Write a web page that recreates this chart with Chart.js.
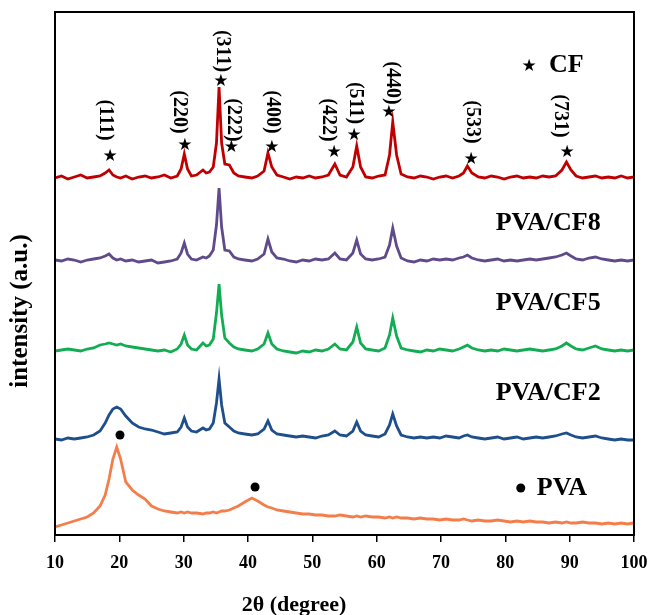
<!DOCTYPE html>
<html>
<head>
<meta charset="utf-8">
<script src="https://cdn.jsdelivr.net/npm/chart.js@4/dist/chart.umd.min.js"></script>
<style>
  html, body { margin: 0; padding: 0; background: #fff; }
  #wrap { width: 651px; height: 615px; }
</style>
</head>
<body>
<div id="wrap"><canvas id="xrd" width="651" height="615"></canvas></div>
<script>
// 2θ positions (degree)
const twoTheta = [10, 11, 12, 13, 14, 15, 16, 17, 17.8, 18.4, 19, 19.6, 20.2, 21, 22, 23, 24, 25, 26, 27, 28, 29,
  29.6, 30.1, 30.6, 31.2, 32, 33, 33.5, 34, 34.6, 35.1, 35.5, 35.9, 36.4, 37.1, 37.8, 38.5, 39.5, 40.6, 41.5, 42.5,
  43.1, 43.7, 44.5, 45.5, 46.5, 47.5, 48.5, 49.5, 50.5, 51.5, 52.5, 53.5, 54.3, 55.3, 56.3, 56.9, 57.5, 58.3, 59.3,
  60.3, 61.3, 62, 62.5, 63.1, 63.8, 64.8, 65.8, 66.8, 67.8, 68.8, 69.8, 70.8, 71.8, 72.8, 73.5, 74.1, 74.8, 75.8,
  76.8, 77.8, 78.8, 79.8, 80.8, 81.8, 82.8, 83.8, 84.8, 85.8, 86.8, 87.8, 88.8, 89.5, 90.2, 91, 92, 93, 94, 95, 96,
  97, 98, 99, 100];

// intensities (a.u., stacked offsets included)
const cf = [357, 359, 356, 358, 360, 357, 358, 359, 362, 365, 360, 358, 357, 359, 356, 358, 359, 357, 358, 360, 357, 359,
  366, 381, 366, 359, 360, 365, 362, 363, 368, 392, 448, 392, 371, 370, 362, 359, 358, 357, 359, 364,
  382, 368, 360, 358, 356, 358, 357, 359, 357, 358, 360, 371, 360, 358, 368, 389, 368, 358, 357,
  359, 360, 380, 413, 380, 361, 358, 357, 359, 358, 356, 358, 359, 357, 359, 362, 369, 362, 358,
  357, 359, 358, 356, 358, 359, 357, 358, 357, 359, 358, 359, 365, 373, 365, 359, 357, 358, 359, 357, 358,
  357, 359, 357, 358];
const pvaCf8 = [275, 274, 276, 275, 273, 275, 276, 277, 279, 281, 277, 275, 276, 274, 275, 273, 274, 275, 272, 273, 274, 276,
  282, 292, 281, 276, 275, 278, 277, 279, 285, 310, 347, 308, 285, 284, 278, 276, 275, 274, 276, 281,
  296, 283, 277, 276, 274, 273, 275, 274, 276, 275, 276, 282, 276, 275, 282, 295, 281, 276, 275,
  276, 278, 290, 307, 289, 277, 274, 273, 275, 274, 276, 275, 276, 275, 277, 278, 280, 277, 275,
  274, 275, 276, 274, 275, 274, 275, 276, 275, 276, 277, 278, 280, 282, 279, 276, 275, 277, 278, 276, 275,
  274, 275, 274, 275];
const pvaCf5 = [184, 185, 186, 185, 184, 186, 187, 190, 191, 192, 191, 190, 191, 189, 188, 187, 186, 185, 184, 185, 183, 186,
  191, 200, 190, 186, 185, 192, 189, 190, 196, 222, 251, 220, 197, 192, 188, 186, 185, 184, 186, 191,
  202, 191, 186, 184, 183, 182, 184, 183, 185, 184, 186, 191, 186, 185, 193, 208, 192, 186, 185,
  184, 187, 200, 217, 199, 187, 185, 184, 183, 185, 184, 186, 185, 184, 186, 188, 190, 187, 185,
  184, 185, 184, 186, 185, 184, 185, 186, 185, 184, 185, 186, 189, 192, 189, 186, 185, 187, 189, 186, 185,
  184, 185, 184, 185];
const pvaCf2 = [96, 95, 97, 96, 97, 98, 100, 104, 112, 120, 126, 128, 126, 119, 112, 108, 106, 105, 103, 101, 102, 103,
  108, 117, 108, 104, 103, 107, 105, 106, 112, 132, 156, 130, 112, 108, 104, 102, 101, 100, 101, 106,
  114, 105, 101, 100, 99, 98, 99, 98, 97, 99, 100, 104, 100, 99, 104, 113, 104, 100, 99,
  98, 101, 110, 121, 109, 100, 98, 97, 98, 97, 98, 97, 99, 98, 97, 99, 100, 98, 97,
  96, 97, 98, 96, 97, 98, 96, 97, 98, 97, 98, 99, 101, 102, 100, 98, 97, 98, 99, 97, 96,
  95, 96, 95, 95];
const pva = [8, 10, 12, 14, 16, 18, 22, 29, 40, 56, 76, 88, 76, 53, 45, 40, 36, 29, 26, 24, 23, 22,
  23, 22, 23, 22, 22, 21, 22, 22, 23, 22, 23, 24, 24, 25, 27, 29, 33, 37, 34, 30,
  28, 27, 25, 24, 23, 22, 21, 21, 20, 20, 19, 19, 20, 19, 18, 19, 18, 19, 18,
  18, 17, 18, 17, 18, 17, 17, 16, 17, 16, 16, 15, 16, 15, 15, 16, 15, 14, 15,
  14, 14, 15, 14, 13, 14, 13, 14, 13, 13, 12, 13, 12, 13, 12, 12, 13, 12, 12, 11, 12,
  11, 12, 11, 12];

const seriesNames = ['CF', 'PVA/CF8', 'PVA/CF5', 'PVA/CF2', 'PVA'];
const xTicks = [10, 20, 30, 40, 50, 60, 70, 80, 90, 100];

// (hkl) reflections of CF
const hklText = ['(111)', '(220)', '(311)', '(222)', '(400)', '(422)', '(511)', '(440)', '(533)', '(731)'];
const hklX = [17.8, 29.3, 36.0, 37.7, 43.7, 52.4, 56.6, 62.4, 74.8, 88.5];
const hklY = [415, 423, 484, 415, 423, 415, 432, 452, 413, 419];
const starX = [18.55, 30.2, 35.8, 37.4, 43.7, 53.4, 56.5, 61.9, 74.7, 89.6];
const starY = [378, 389, 453, 387, 387, 382, 399, 422, 375, 382];
// PVA reflections
const dotX = [20.1, 41.1];
const dotY = [100, 48];
// trace name positions
const nameX = [86.8, 78.5, 78.5, 78.5, 84.9];
const nameY = [470, 312, 232, 142, 47];

const colors = ['#c00000', '#5f4b8b', '#12ad52', '#1f4e8c', '#f47d4a'];
const allSeries = [cf, pvaCf8, pvaCf5, pvaCf2, pva];

const serif = '"Liberation Serif", "Times New Roman", serif';

const annotate = {
  id: 'annotate',
  afterDatasetsDraw(chart) {
    const ctx = chart.ctx;
    const xs = chart.scales.x, ys = chart.scales.y;
    const a = chart.chartArea;
    ctx.save();
    // frame
    ctx.strokeStyle = '#000';
    ctx.lineWidth = 2;
    ctx.strokeRect(a.left, a.top, a.right - a.left, a.bottom - a.top);

    ctx.fillStyle = '#000';
    // rotated hkl labels
    ctx.font = 'bold 20px ' + serif;
    ctx.textAlign = 'center';
    ctx.textBaseline = 'middle';
    hklText.forEach((t, i) => {
      ctx.save();
      ctx.translate(xs.getPixelForValue(hklX[i]), ys.getPixelForValue(hklY[i]));
      ctx.rotate(Math.PI / 2);
      ctx.fillText(t, 0, 0);
      ctx.restore();
    });
    // stars
    ctx.font = '17px "DejaVu Sans"';
    starX.forEach((x, i) => {
      ctx.fillText('\u2605', xs.getPixelForValue(x), ys.getPixelForValue(starY[i]));
    });
    // dots
    dotX.forEach((x, i) => {
      ctx.beginPath();
      ctx.arc(xs.getPixelForValue(x), ys.getPixelForValue(dotY[i]), 4.5, 0, Math.PI * 2);
      ctx.fill();
    });

    // trace names
    ctx.font = 'bold 26px ' + serif;
    ctx.textAlign = 'left';
    seriesNames.forEach((n, i) => {
      ctx.fillText(n, xs.getPixelForValue(nameX[i]), ys.getPixelForValue(nameY[i]));
    });
    // legend symbols for CF and PVA
    ctx.textAlign = 'center';
    ctx.font = '17px "DejaVu Sans"';
    ctx.fillText('\u2605', xs.getPixelForValue(83.7), ys.getPixelForValue(468));
    ctx.beginPath();
    ctx.arc(xs.getPixelForValue(82.4), ys.getPixelForValue(47), 4.5, 0, Math.PI * 2);
    ctx.fill();

    // axis titles
    ctx.font = 'bold 22px ' + serif;
    ctx.fillText('2\u03b8 (degree)', 294, 605);
    ctx.save();
    ctx.translate(21, 311);
    ctx.rotate(-Math.PI / 2);
    ctx.font = 'bold 25px ' + serif;
    ctx.fillText('intensity (a.u.)', 0, 0);
    ctx.restore();
    ctx.restore();
  }
};

new Chart(document.getElementById('xrd').getContext('2d'), {
  type: 'line',
  data: {
    datasets: allSeries.map((s, k) => ({
      label: seriesNames[k],
      data: twoTheta.map((t, i) => ({ x: t, y: s[i] })),
      borderColor: colors[k],
      borderWidth: 2.8,
      pointRadius: 0,
      tension: 0,
      fill: false
    }))
  },
  options: {
    responsive: false,
    animation: false,
    layout: { padding: { top: 12, right: 17, left: 0, bottom: 0 } },
    plugins: { legend: { display: false }, tooltip: { enabled: false } },
    scales: {
      x: {
        type: 'linear',
        min: 10,
        max: 100,
        afterBuildTicks: (scale) => { scale.ticks = xTicks.map(v => ({ value: v })); },
        afterFit: (scale) => {
          scale.height = 80;
          scale.paddingLeft = 0;
          scale.paddingRight = 0;
        },
        grid: { drawOnChartArea: false, color: '#000', lineWidth: 1.5, tickLength: 7 },
        border: { color: '#000', width: 2 },
        ticks: { color: '#000', padding: 11, font: { family: serif, size: 18, weight: 'bold' } }
      },
      y: {
        min: 0,
        max: 523,
        afterFit: (scale) => { scale.width = 55; },
        grid: { display: false, drawTicks: false },
        border: { color: '#000', width: 2 },
        ticks: { display: false }
      }
    }
  },
  plugins: [annotate]
});
</script>
</body>
</html>
